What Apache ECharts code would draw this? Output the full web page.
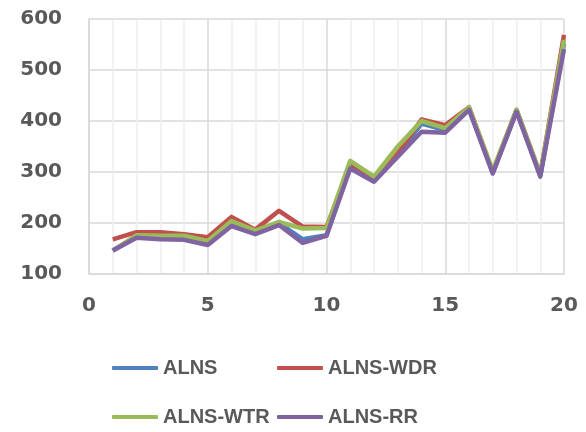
<!DOCTYPE html>
<html>
<head>
<meta charset="utf-8">
<script src="https://cdn.jsdelivr.net/npm/echarts@6/dist/echarts.min.js"></script>
<style>
  html, body { margin: 0; padding: 0; background: #fff; }
  #chart { width: 586px; height: 432px; }
</style>
</head>
<body>
<div id="chart"></div>
<script>
// 데이터
var xs = [1, 2, 3, 4, 5, 6, 7, 8, 9, 10, 11, 12, 13, 14, 15, 16, 17, 18, 19, 20];
var seriesNames = ['ALNS', 'ALNS-WDR', 'ALNS-WTR', 'ALNS-RR'];
var alns    = [146, 172, 170, 169, 160, 198, 180, 200, 168, 176, 312, 283, 334, 395, 382, 425, 298, 420, 293, 552];
var alnsWdr = [168, 182, 182, 178, 172, 212, 187, 224, 193, 192, 314, 283, 337, 403, 392, 427, 300, 422, 295, 569];
var alnsWtr = [146, 176, 175, 175, 165, 204, 185, 202, 189, 190, 322, 291, 350, 400, 386, 427, 303, 422, 296, 559];
var alnsRr  = [146, 171, 168, 167, 157, 194, 178, 196, 161, 175, 307, 281, 330, 379, 377, 422, 297, 418, 291, 541];
var colors = ['#4F81BD', '#C0504D', '#9BBB59', '#8064A2'];

window.onload = function() {
  drawChart();
};

function pairs(vals) {
  return xs.map(function (x, i) { return [x, vals[i]]; });
}

function drawChart() {
  var myChart = echarts.init(document.getElementById('chart'));
  var allData = [alns, alnsWdr, alnsWtr, alnsRr];

  var labelStyle = {
    color: '#595959',
    fontFamily: 'DejaVu Sans',
    fontWeight: 'bold',
    fontSize: 20
  };

  // 범례는 엑셀처럼 2열로 맞추기 위해 항목마다 따로 둠
  var legendPos = [[112, 358], [277, 358], [112, 407], [277, 407]];
  var legends = seriesNames.map(function (name, i) {
    return {
      data: [name],
      left: legendPos[i][0],
      top: legendPos[i][1],
      padding: 0,
      icon: 'roundRect',
      itemWidth: 46,
      itemHeight: 4,
      itemGap: 5,
      textStyle: {
        color: '#595959',
        fontFamily: 'Liberation Sans',
        fontWeight: 'bold',
        fontSize: 20,
        padding: [0, 0, 0, 0]
      }
    };
  });

  var option = {
    animation: false,
    color: colors,
    legend: legends,
    grid: {
      left: 89,
      right: 22,
      top: 19,
      bottom: 158
    },
    xAxis: {
      type: 'value',
      min: 0,
      max: 20,
      interval: 5,
      axisLine: { lineStyle: { color: '#d9d9d9', width: 1.5 } },
      axisTick: { show: false },
      axisLabel: Object.assign({ margin: 22 }, labelStyle),
      splitLine: { lineStyle: { color: '#d9d9d9', width: 1.5 } },
      minorTick: { show: false, splitNumber: 5 },
      minorSplitLine: { show: true, lineStyle: { color: '#eeeeee', width: 1.5 } }
    },
    yAxis: {
      type: 'value',
      min: 100,
      max: 600,
      interval: 100,
      axisLine: { show: true, lineStyle: { color: '#d9d9d9', width: 1.5 } },
      axisTick: { show: false },
      axisLabel: Object.assign({ margin: 27 }, labelStyle),
      splitLine: { lineStyle: { color: '#d9d9d9', width: 1.5 } }
    },
    series: seriesNames.map(function (name, i) {
      return {
        name: name,
        type: 'line',
        symbol: 'none',
        data: pairs(allData[i]),
        lineStyle: { width: 4.5, color: colors[i], join: 'round' }
      };
    })
  };

  myChart.setOption(option);
}
</script>
</body>
</html>
